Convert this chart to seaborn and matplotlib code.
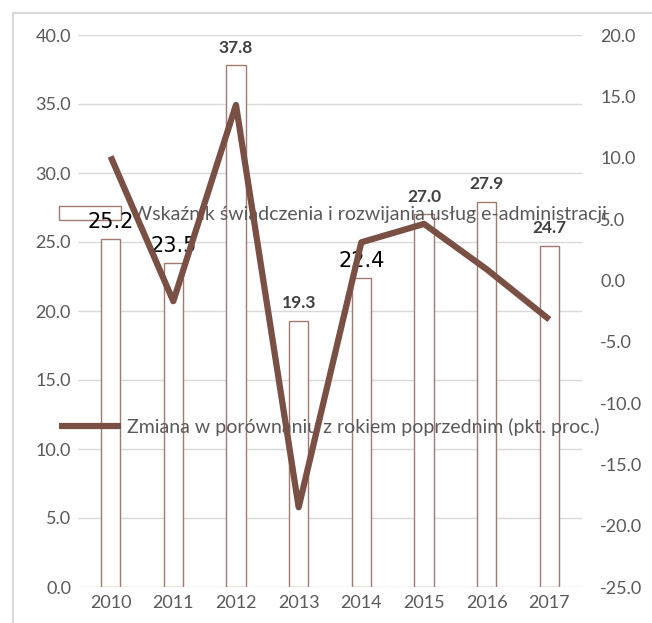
import numpy as np
import pandas as pd
import matplotlib
matplotlib.use("Agg")
import matplotlib.pyplot as plt
import seaborn as sns
from matplotlib.patches import Rectangle

years = ["2010", "2011", "2012", "2013", "2014", "2015", "2016", "2017"]
index_values = [25.2, 23.5, 37.8, 19.3, 22.4, 27.0, 27.9, 24.7]
change_values = [10.1, -1.7, 14.3, -18.5, 3.1, 4.6, 0.9, -3.2]
bold_label_years = ["2012", "2013", "2015", "2016", "2017"]
left_ticks = [0, 5, 10, 15, 20, 25, 30, 35, 40]
right_ticks = [-25, -20, -15, -10, -5, 0, 5, 10, 15, 20]
bar_label_name = "Wskaźnik świadczenia i rozwijania usług e-administracji"
line_label_name = "Zmiana w porównaniu z rokiem poprzednim (pkt. proc.)"

sns.set_theme(style="white")
plt.rcParams["font.family"] = ["Lato", "DejaVu Sans"]

GRAY = "#595959"
LINE_C = "#7a5045"
EDGE_C = "#a27a6e"
GRID_C = "#d9d9d9"

fig = plt.figure(figsize=(6.52, 6.23), dpi=100)
fig.patch.set_facecolor("white")
W, H = 652, 623
ax = fig.add_axes([78 / W, 1 - 587 / H, (582 - 78) / W, (587 - 35) / H])

df = pd.DataFrame({"year": years, "value": index_values, "change": change_values})

sns.barplot(data=df, x="year", y="value", ax=ax, color="white",
            edgecolor=EDGE_C, linewidth=1.0, width=0.31, saturation=1, zorder=2)

ax.set_ylim(0, 40)
ax.set_yticks(left_ticks)
ax.set_yticklabels([f"{t:.1f}" for t in left_ticks])
ax.grid(axis="y", color=GRID_C, linewidth=1.0, zorder=0)
ax.set_axisbelow(True)
for s in ax.spines.values():
    s.set_visible(False)
ax.set_xlabel("")
ax.set_ylabel("")
ax.tick_params(axis="y", length=0, pad=5, labelsize=13, labelcolor=GRAY)
ax.tick_params(axis="x", length=0, pad=6, labelsize=13, labelcolor=GRAY)

# data labels
cont = ax.containers[0]
normal_labels = ["" if y in bold_label_years else f"{v:.1f}" for y, v in zip(years, index_values)]
bold_labels = [f"{v:.1f}" if y in bold_label_years else "" for y, v in zip(years, index_values)]
ax.bar_label(cont, labels=normal_labels, padding=5, fontsize=15, color="black",
             family="DejaVu Sans", zorder=4)
ax.bar_label(cont, labels=bold_labels, padding=7, fontsize=12.5, color="#404040",
             fontweight="bold", zorder=4)

ax2 = ax.twinx()
sns.lineplot(x=np.arange(len(years)), y=change_values, ax=ax2, color=LINE_C,
             linewidth=4.5, zorder=5)
ax2.lines[0].set_solid_capstyle("butt")
ax2.set_ylim(-25, 20)
ax2.set_yticks(right_ticks)
ax2.set_yticklabels([f"{t:.1f}" for t in right_ticks])
ax2.tick_params(axis="y", length=0, pad=13, labelsize=13, labelcolor=GRAY)
for s in ax2.spines.values():
    s.set_visible(False)
ax2.set_ylabel("")
ax2.grid(False)

# legends (placed in figure coordinates, drawn beneath the data labels)
bar_handle = cont.patches[0]
line_handle = ax2.lines[0]
leg1 = ax.legend([bar_handle], [bar_label_name], loc="center left",
                 bbox_to_anchor=(59 / W, 1 - 214.5 / H), bbox_transform=fig.transFigure,
                 frameon=False, fontsize=14, labelcolor=GRAY, handlelength=3.2,
                 handleheight=0.7, handletextpad=0.55, borderpad=0, borderaxespad=0)
leg1.set_zorder(3)
ax.add_artist(leg1)
leg2 = ax.legend([line_handle], [line_label_name], loc="center left",
                 bbox_to_anchor=(59 / W, 1 - 427 / H), bbox_transform=fig.transFigure,
                 frameon=False, fontsize=14, labelcolor=GRAY, handlelength=3.2,
                 handletextpad=0.3, borderpad=0, borderaxespad=0)
leg2.set_zorder(3)

# outer chart border (top and left visible)
fig.patches.append(Rectangle((13 / W, -0.1), 1.2, 1 - 13 / H + 0.1,
                             transform=fig.transFigure, fill=False,
                             edgecolor="#d9d9d9", linewidth=1.5))

fig.savefig("out.png", dpi=100)
